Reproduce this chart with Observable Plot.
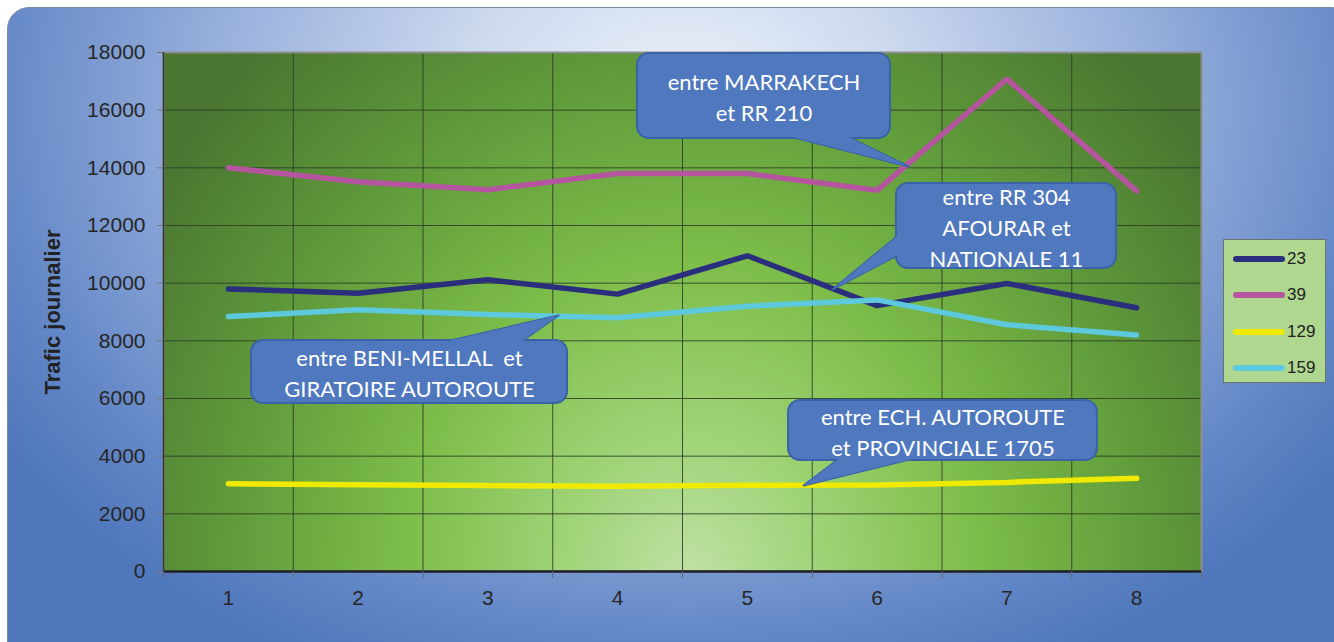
<!DOCTYPE html>
<html><head><meta charset="utf-8">
<script src="https://cdn.jsdelivr.net/npm/d3@7"></script>
<script src="https://cdn.jsdelivr.net/npm/@observablehq/plot@0.6"></script>
<style>
body{margin:0;background:#fff;width:1334px;height:642px;overflow:hidden;position:relative;font-family:"Liberation Sans",Arial,sans-serif}
#bg{position:absolute;left:7px;top:7px;width:1345px;height:655px;border-radius:22px;border:1px solid #7d8aa6;
background:radial-gradient(ellipse 60% 95% at 50% 15%, #eff3fa 0%, #cbd8ee 28%, #98b0dc 58%, #6488c7 85%, #4f77bc 100%)}
#chart{position:absolute;left:0;top:0}
#legend{position:absolute;left:1223px;top:239px;width:103px;height:144px;background:#afd78f;border:1px solid #66766a;box-sizing:border-box}
#legend .it{position:absolute;left:8px;height:20px;display:flex;align-items:center}
#legend span{font-size:17px;color:#222;margin-left:1px}
</style></head><body>
<div id="bg"></div><div id="chart"></div><div id="legend"></div>
<script>
// ---- data ----
const categories = [1, 2, 3, 4, 5, 6, 7, 8];
const seriesNames = ["23", "39", "129", "159"];
const seriesColors = ["#2b2e7c", "#b6559f", "#f0ea00", "#5ec8dc"];
const s23  = [9800, 9650, 10120, 9620, 10950, 9220, 9990, 9150];
const s39  = [14000, 13520, 13240, 13800, 13800, 13220, 17080, 13200];
const s129 = [3040, 3010, 2980, 2960, 2990, 3000, 3090, 3230];
const s159 = [8840, 9080, 8910, 8800, 9200, 9420, 8560, 8200];
const yTicks = [0, 2000, 4000, 6000, 8000, 10000, 12000, 14000, 16000, 18000];
const yLabel = "Trafic journalier";

// callouts (data units): text, box [x1,x2,y1,y2], pointer [base1, tip, base2]
const calloutText = ["entre MARRAKECH\net RR 210", "entre RR 304\nAFOURAR et\nNATIONALE 11", "entre BENI-MELLAL  et\nGIRATOIRE AUTOROUTE", "entre ECH. AUTOROUTE\net PROVINCIALE 1705"];
const calloutBox = [[4.153, 6.103, 15017, 17965], [6.149, 7.845, 10509, 13457], [1.178, 3.614, 5827, 8012], [5.317, 7.698, 3850, 5931]];
const calloutPointer = [
  [[5.302, 15120], [6.242, 14046], [5.756, 15120]],
  [[6.18, 11723], [5.656, 9781], [6.18, 11029]],
  [[2.612, 7910], [3.544, 8879], [3.236, 7910]],
  [[5.718, 3953], [5.433, 2983], [6.311, 3953]]
];

const allSeries = [s23, s39, s129, s159];
const rows = [];
seriesNames.forEach((name, si) => categories.forEach((c, i) => rows.push({x: c, y: allSeries[si][i], s: name})));
const ptRows = [];
calloutPointer.forEach((p, i) => p.forEach(q => ptRows.push({x: q[0], y: q[1], id: i})));
const boundaries = d3.range(0.5, categories.length + 1, 1);
const innerBounds = boundaries.slice(1, -1);

const CF = "#4f78be", CS = "#3a63a8";

const plot = Plot.plot({
  width: 1334, height: 642,
  marginLeft: 163, marginRight: 133, marginTop: 52, marginBottom: 71,
  style: {background: "transparent", fontFamily: "'Liberation Sans', Arial, sans-serif", fontSize: "21px", color: "#262626"},
  x: {type: "linear", domain: [0.5, categories.length + 0.5]},
  y: {domain: [0, 18000]},
  color: {domain: seriesNames, range: seriesColors},
  marks: [
    Plot.frame({fill: "url(#plotGrad)", stroke: "none"}),
    Plot.gridY(yTicks.slice(1, -1), {stroke: "#2c3a26", strokeOpacity: 0.85, strokeWidth: 1}),
    Plot.gridX(innerBounds, {stroke: "#2c3a26", strokeOpacity: 0.85, strokeWidth: 1}),
    Plot.frame({stroke: "#8e8e8e", strokeWidth: 2}),
    Plot.ruleX([0.5], {stroke: "#333", strokeWidth: 1.5}),
    Plot.ruleY([0], {stroke: "#1e1e28", strokeWidth: 2.5}),
    Plot.axisY(yTicks, {tickSize: 6, tickPadding: 12, label: null, stroke: "#777", fill: "#262626", fontSize: 21, tickFormat: d => String(d)}),
    Plot.axisX(categories, {tickSize: 0, tickPadding: 19, label: null, fill: "#262626", fontSize: 21, tickFormat: d => String(d)}),
    Plot.axisX(boundaries, {tickSize: 7, tickFormat: () => "", label: null, stroke: "#666"}),
    Plot.text([yLabel], {frameAnchor: "left", textAnchor: "middle", text: d => d, rotate: -90, dx: -111, fontWeight: "bold", fontSize: 22, fill: "#222"}),
    Plot.line(rows, {x: "x", y: "y", z: "s", stroke: "s", strokeWidth: 5.5, strokeLinecap: "round", strokeLinejoin: "miter"}),
    // callouts
    Plot.line(ptRows, {x: "x", y: "y", z: "id", fill: CF, stroke: CS, strokeWidth: 2, curve: "linear"}),
    Plot.rect(calloutBox, {x1: d => d[0], x2: d => d[1], y1: d => d[2], y2: d => d[3], fill: CF, stroke: CS, strokeWidth: 2, rx: 12}),
    Plot.line(ptRows, {x: "x", y: "y", z: "id", fill: CF, stroke: "none"}),
    Plot.text(calloutText, {x: (d, i) => (calloutBox[i][0] + calloutBox[i][1]) / 2, y: (d, i) => (calloutBox[i][2] + calloutBox[i][3]) / 2,
      text: d => d, fill: "white", fontSize: 22, fontFamily: "Lato, 'Open Sans', sans-serif", lineHeight: 1.4})
  ]
});

d3.select(plot).insert("defs", ":first-child").html(`
<radialGradient id="plotGrad" gradientUnits="userSpaceOnUse" cx="690" cy="575" r="640" gradientTransform="translate(690 575) scale(1 1.1) translate(-690 -575)">
  <stop offset="0" stop-color="#bfe1a5"/>
  <stop offset="0.22" stop-color="#9dd273"/>
  <stop offset="0.45" stop-color="#7dbd49"/>
  <stop offset="0.72" stop-color="#609b3b"/>
  <stop offset="1" stop-color="#4a7631"/>
</radialGradient>`);
document.getElementById("chart").appendChild(plot);

// legend
const lg = d3.select("#legend");
seriesNames.forEach((n, i) => {
  const it = lg.append("div").attr("class", "it").style("top", (9 + i * 36.3) + "px");
  const sv = it.append("svg").attr("width", 54).attr("height", 20);
  sv.append("line").attr("x1", 4).attr("x2", 50).attr("y1", 10).attr("y2", 10)
    .attr("stroke", seriesColors[i]).attr("stroke-width", 6).attr("stroke-linecap", "round");
  it.append("span").text(n);
});
</script></body></html>
